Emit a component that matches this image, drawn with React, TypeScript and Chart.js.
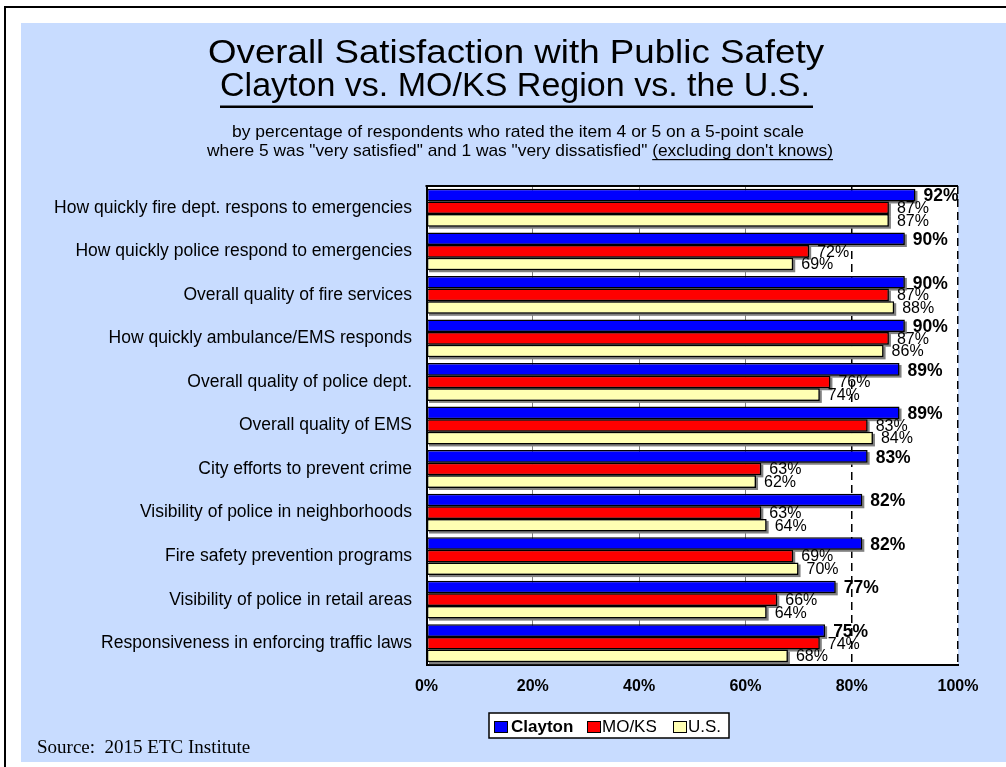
import React, { useEffect, useRef } from "react";
import { Chart, registerables } from "chart.js";

Chart.register(...registerables);

const categories = [
  "How quickly fire dept. respons to emergencies",
  "How quickly police respond to emergencies",
  "Overall quality of fire services",
  "How quickly ambulance/EMS responds",
  "Overall quality of police dept.",
  "Overall quality of EMS",
  "City efforts to prevent crime",
  "Visibility of police in neighborhoods",
  "Fire safety prevention programs",
  "Visibility of police in retail areas",
  "Responsiveness in enforcing traffic laws",
];

const claytonValues = [92, 90, 90, 90, 89, 89, 83, 82, 82, 77, 75];
const moksValues = [87, 72, 87, 87, 76, 83, 63, 63, 69, 66, 74];
const usValues = [87, 69, 88, 86, 74, 84, 62, 64, 70, 64, 68];

const seriesNames = ["Clayton", "MO/KS", "U.S."];
const seriesColors = ["#0000FF", "#FF0000", "#FFFFB3"];
const xTickValues = [0, 20, 40, 60, 80, 100];

const titleLine1 = "Overall Satisfaction with Public Safety";
const titleLine2 = "Clayton vs. MO/KS Region vs. the U.S.";
const subLine1 = "by percentage of respondents who rated the item 4 or 5 on a 5-point scale";
const subLine2a = 'where 5 was "very satisfied" and 1 was "very dissatisfied" ';
const subLine2b = "(excluding don't knows)";
const sourceText = "Source:  2015 ETC Institute";

const SANS = '"Liberation Sans", Arial, sans-serif';
const SERIF = '"Liberation Serif", "Times New Roman", serif';

function stretchedText(
  ctx: CanvasRenderingContext2D,
  text: string,
  cx: number,
  baseline: number,
  font: string,
  targetWidth: number
) {
  ctx.save();
  ctx.font = font;
  const w = ctx.measureText(text).width;
  const s = targetWidth / w;
  ctx.translate(cx, baseline);
  ctx.scale(s, 1);
  ctx.textAlign = "center";
  ctx.textBaseline = "alphabetic";
  ctx.fillStyle = "#000";
  ctx.fillText(text, 0, 0);
  ctx.restore();
}

const decorPlugin = {
  id: "decor",
  beforeDraw(chart: any) {
    const ctx: CanvasRenderingContext2D = chart.ctx;
    const { width, height, chartArea } = chart;
    ctx.save();
    ctx.fillStyle = "#FFFFFF";
    ctx.fillRect(0, 0, width, height);
    // outer frame
    ctx.strokeStyle = "#000";
    ctx.lineWidth = 2;
    ctx.beginPath();
    ctx.moveTo(5, height);
    ctx.lineTo(5, 7);
    ctx.lineTo(width, 7);
    ctx.stroke();
    // blue panel
    ctx.fillStyle = "#C8DCFF";
    ctx.fillRect(21, 23, width - 21, 762 - 23);
    // plot area
    ctx.fillStyle = "#FFFFFF";
    ctx.fillRect(chartArea.left, chartArea.top, chartArea.right - chartArea.left, chartArea.bottom - chartArea.top);

    // titles
    stretchedText(ctx, titleLine1, 516, 63, `34px ${SANS}`, 616);
    stretchedText(ctx, titleLine2, 515, 96, `34px ${SANS}`, 590);
    ctx.fillStyle = "#000";
    ctx.fillRect(220, 105.5, 593, 2.5);

    stretchedText(ctx, subLine1, 518, 137, `17px ${SANS}`, 572);
    // line 2 with underlined part
    ctx.font = `17px ${SANS}`;
    const wa = ctx.measureText(subLine2a).width;
    const wb = ctx.measureText(subLine2b).width;
    const target = 626;
    const s = target / (wa + wb);
    const left = 520 - target / 2;
    ctx.save();
    ctx.translate(left, 156);
    ctx.scale(s, 1);
    ctx.textAlign = "left";
    ctx.fillStyle = "#000";
    ctx.fillText(subLine2a + subLine2b, 0, 0);
    ctx.restore();
    ctx.fillRect(left + wa * s, 159, wb * s, 1.2);

    // source
    ctx.font = `19px ${SERIF}`;
    ctx.textAlign = "left";
    ctx.textBaseline = "alphabetic";
    ctx.fillStyle = "#000";
    ctx.fillText(sourceText, 37, 753);

    // legend
    ctx.fillStyle = "#FFFFFF";
    ctx.fillRect(489, 713, 240, 25);
    ctx.strokeStyle = "#000";
    ctx.lineWidth = 1.5;
    ctx.strokeRect(489, 713, 240, 25);
    const items = [
      { x: 494, tx: 511, font: `bold 17px ${SANS}` },
      { x: 587, tx: 602, font: `17px ${SANS}` },
      { x: 673, tx: 688, font: `17px ${SANS}` },
    ];
    items.forEach((it, i) => {
      ctx.fillStyle = seriesColors[i];
      ctx.fillRect(it.x, 721, 14, 12);
      ctx.lineWidth = 1;
      ctx.strokeStyle = "#000";
      ctx.strokeRect(it.x + 0.5, 721.5, 13, 11);
      ctx.fillStyle = "#000";
      ctx.font = it.font;
      ctx.fillText(seriesNames[i], it.tx, 732);
    });
    ctx.restore();
  },
  beforeDatasetsDraw(chart: any) {
    const ctx: CanvasRenderingContext2D = chart.ctx;
    ctx.save();
    ctx.fillStyle = "#808080";
    chart.data.datasets.forEach((_: any, di: number) => {
      const meta = chart.getDatasetMeta(di);
      meta.data.forEach((el: any) => {
        const { x, y, base, height } = el.getProps(["x", "y", "base", "height"], true);
        const l = Math.min(x, base);
        const w = Math.abs(x - base);
        ctx.fillRect(l + 2, y - height / 2 + 2, w, height);
      });
    });
    ctx.restore();
  },
  afterDatasetsDraw(chart: any) {
    const ctx: CanvasRenderingContext2D = chart.ctx;
    const { chartArea } = chart;
    ctx.save();
    chart.data.datasets.forEach((ds: any, di: number) => {
      const meta = chart.getDatasetMeta(di);
      meta.data.forEach((el: any, i: number) => {
        const { x, y, height } = el.getProps(["x", "y", "height"], true);
        ctx.font = di === 0 ? `bold 17.5px ${SANS}` : `16px ${SANS}`;
        ctx.fillStyle = "#000";
        ctx.textAlign = "left";
        ctx.textBaseline = "alphabetic";
        ctx.fillText(`${ds.data[i]}%`, x + 8, y + height / 2 - (di === 0 ? 0 : 1));
      });
    });
    // top border of plot
    ctx.strokeStyle = "#000";
    ctx.lineWidth = 2;
    ctx.beginPath();
    ctx.moveTo(chartArea.left - 1, chartArea.top);
    ctx.lineTo(chartArea.right, chartArea.top);
    ctx.stroke();
    ctx.restore();
  },
};

export default function App() {
  const canvasRef = useRef<HTMLCanvasElement | null>(null);

  useEffect(() => {
    if (!canvasRef.current) return;
    const values = [claytonValues, moksValues, usValues];
    const chart = new Chart(canvasRef.current, {
      type: "bar",
      data: {
        labels: categories,
        datasets: values.map((v, i) => ({
          label: seriesNames[i],
          data: v,
          backgroundColor: seriesColors[i],
          borderColor: "#000000",
          borderWidth: 1.5,
          borderSkipped: false,
          categoryPercentage: 0.87,
          barPercentage: 1.0,
        })),
      },
      options: {
        indexAxis: "y",
        responsive: false,
        animation: false,
        layout: { padding: { left: 0, right: 48, top: 186, bottom: 0 } },
        plugins: {
          legend: { display: false },
          title: { display: false },
          tooltip: { enabled: false },
        },
        scales: {
          x: {
            min: 0,
            max: 100,
            afterBuildTicks: (scale: any) => {
              scale.ticks = xTickValues.map((v) => ({ value: v }));
            },
            afterFit: (scale: any) => {
              scale.height = 102;
            },
            ticks: {
              padding: 12,
              color: "#000",
              font: { family: SANS, size: 16, weight: "bold" },
              callback: (v: any) => `${v}%`,
              maxRotation: 0,
            },
            grid: {
              drawTicks: false,
              color: (c: any) => (c.tick && c.tick.value >= 80 ? "#000000" : "#808080"),
              lineWidth: (c: any) => (c.tick && c.tick.value >= 80 ? 1.5 : 1),
            },
            border: {
              display: true,
              color: "#000",
              width: 2,
              dash: (c: any) => (c.tick && c.tick.value >= 80 ? [8, 5] : []),
            },
          },
          y: {
            afterFit: (scale: any) => {
              scale.width = 426.5;
            },
            ticks: {
              autoSkip: false,
              padding: 14.5,
              color: "#000",
              font: { family: SANS, size: 17.5 },
            },
            grid: { display: false, drawTicks: false },
            border: { display: true, color: "#000", width: 2 },
          },
        },
      },
      plugins: [decorPlugin],
    } as any);
    return () => chart.destroy();
  }, []);

  return (
    <div style={{ position: "absolute", left: 0, top: 0, width: 1006, height: 767 }}>
      <canvas ref={canvasRef} width={1006} height={767} style={{ display: "block", width: 1006, height: 767 }} />
    </div>
  );
}
